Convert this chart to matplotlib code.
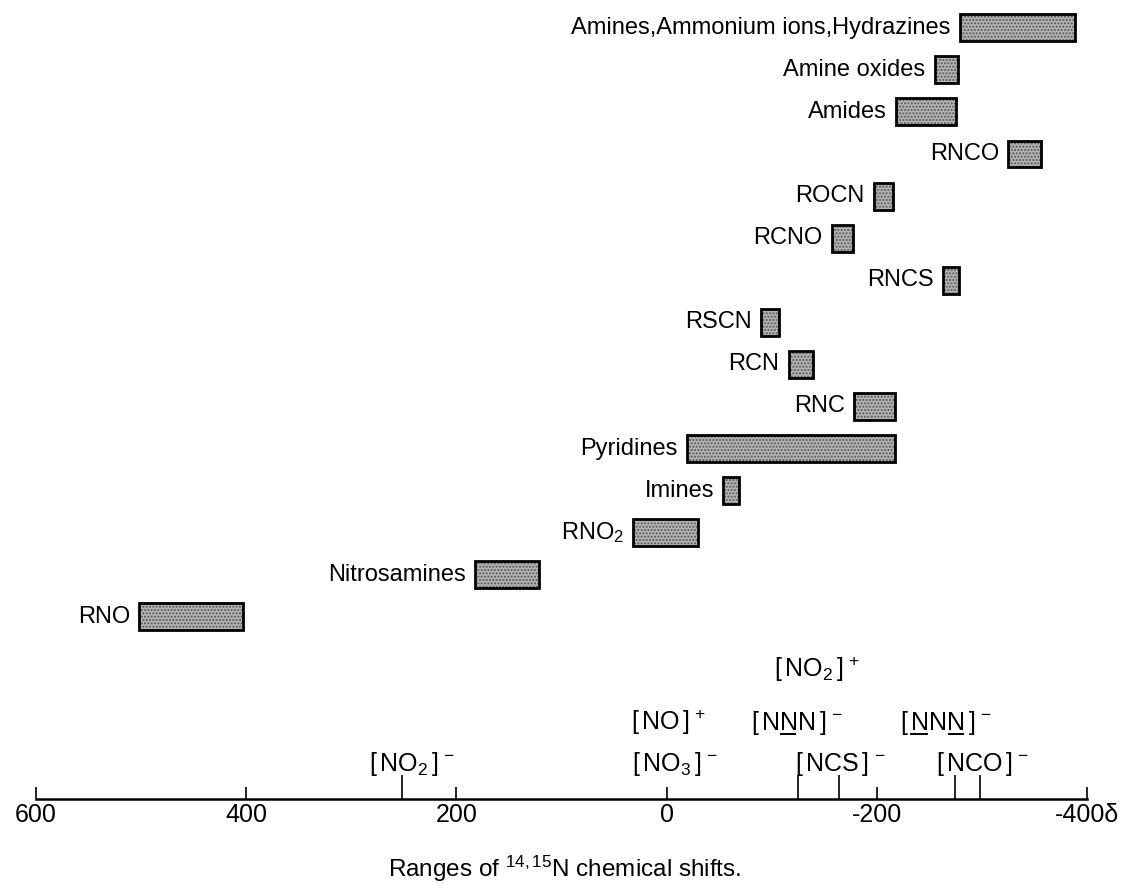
import matplotlib
matplotlib.use("Agg")
import matplotlib.pyplot as plt
from matplotlib.lines import Line2D

plt.rcParams['font.family'] = 'Liberation Sans'
plt.rcParams['mathtext.fontset'] = 'custom'
plt.rcParams['mathtext.rm'] = 'Liberation Sans'
plt.rcParams['mathtext.it'] = 'Liberation Sans:italic'
plt.rcParams['mathtext.bf'] = 'Liberation Sans:bold'

# compound classes, bottom row first; ranges in ppm (delta)
classes = ['RNO', 'Nitrosamines', 'RNO$_2$', 'Imines', 'Pyridines', 'RNC',
           'RCN', 'RSCN', 'RNCS', 'RCNO', 'ROCN', 'RNCO', 'Amides',
           'Amine oxides', 'Amines,Ammonium ions,Hydrazines']
range_high = [502, 182, 32, -54, -19, -178, -116, -90, -263, -157, -197,
              -325, -218, -255, -279]
range_low = [403, 121, -30, -69, -217, -217, -139, -107, -278, -177, -215,
             -356, -275, -277, -389]

# reference ions marked on the axis
ion_ticks = [252, -125, -164, -274, -298]
ion_core = ['NO_2', 'NO_3', 'NO', 'NNN', 'NCS', 'NNN', 'NCO', 'NO_2']
ion_charge = ['-', '-', '+', '-', '-', '-', '-', '+']
# which atom (index in core) is underlined, for the azide labels
ion_under = [[], [], [], [1], [], [0, 2], [], []]
ion_x = [242, -8, -2, -124, -165, -266, -301, -143]
ion_level = [0, 0, 1, 1, 0, 1, 0, 2]

xticks = [600, 400, 200, 0, -200, -400]
xtick_labels = ['600', '400', '200', '0', '-200', '-400\u03b4']

fig = plt.figure(figsize=(11.3, 8.9), dpi=100)
ax = fig.add_axes([36 / 1130, 91 / 890, 1051 / 1130, 799 / 890])

row0 = 4.33
rows = [row0 + i for i in range(len(classes))]
bar_h = 0.64

for name, hi, lo, y in zip(classes, range_high, range_low, rows):
    left = min(hi, lo)
    width = abs(hi - lo)
    ax.barh(y, width, left=left, height=bar_h, color='#b4b4b4',
            hatch='.....', edgecolor='#555555', linewidth=0)
    ax.barh(y, width, left=left, height=bar_h, fill=False,
            edgecolor='black', linewidth=2.0)
    ax.annotate(name, xy=(max(hi, lo), y), xytext=(-6.5, 0),
                textcoords='offset points', ha='right', va='center',
                fontsize=17)

ax.vlines(ion_ticks, 0, 0.57, color='black', linewidth=1.2, clip_on=False)

level_y = [0.67, 1.65, 2.90]
ion_fs = 18
ion_texts = []
for core, ch, x, lv in zip(ion_core, ion_charge, ion_x, ion_level):
    lab = r'$[\,\mathrm{' + core + r'}\,]^{\,' + ch + '}$'
    t = ax.text(x, level_y[lv], lab, ha='center', va='baseline',
                fontsize=ion_fs)
    ion_texts.append(t)

ax.set_xlim(600, -400)
ax.set_ylim(0, 18.99)
ax.set_xticks(xticks)
ax.set_xticklabels(xtick_labels)
ax.tick_params(axis='x', direction='in', length=8.6, width=1.2,
               labelsize=18, pad=3)
ax.set_yticks([])
for s in ['top', 'left', 'right']:
    ax.spines[s].set_visible(False)
ax.spines['bottom'].set_linewidth(1.8)
ax.patch.set_alpha(0)

fig.text(0.5, 13 / 890, 'Ranges of $^{14,15}$N chemical shifts.',
         ha='center', va='baseline', fontsize=17.5)

# underline single atoms (mathtext has no \underline)
fig.canvas.draw()
rend = fig.canvas.get_renderer()


def text_width(s):
    tmp = ax.text(0, 0, s, fontsize=ion_fs)
    w = tmp.get_window_extent(rend).width
    tmp.remove()
    return w


to_fig = fig.transFigure.inverted()
for t, core, under, x, lv in zip(ion_texts, ion_core, ion_under, ion_x,
                                 ion_level):
    bb = t.get_window_extent(rend)
    base = ax.transData.transform((x, level_y[lv]))[1]
    for k in under:
        if k:
            x0 = bb.x0 + text_width(r'$[\,\mathrm{' + core[:k] + '}$')
        else:
            x0 = bb.x0 + text_width(r'$[\,$')
        x1 = bb.x0 + text_width(r'$[\,\mathrm{' + core[:k + 1] + '}$')
        yy = base - 4
        (fx0, fy), (fx1, _) = to_fig.transform([(x0 + 2, yy), (x1 - 2, yy)])
        fig.add_artist(Line2D([fx0, fx1], [fy, fy], color='black',
                              linewidth=1.4, transform=fig.transFigure))

fig.savefig('out.png', dpi=100)
